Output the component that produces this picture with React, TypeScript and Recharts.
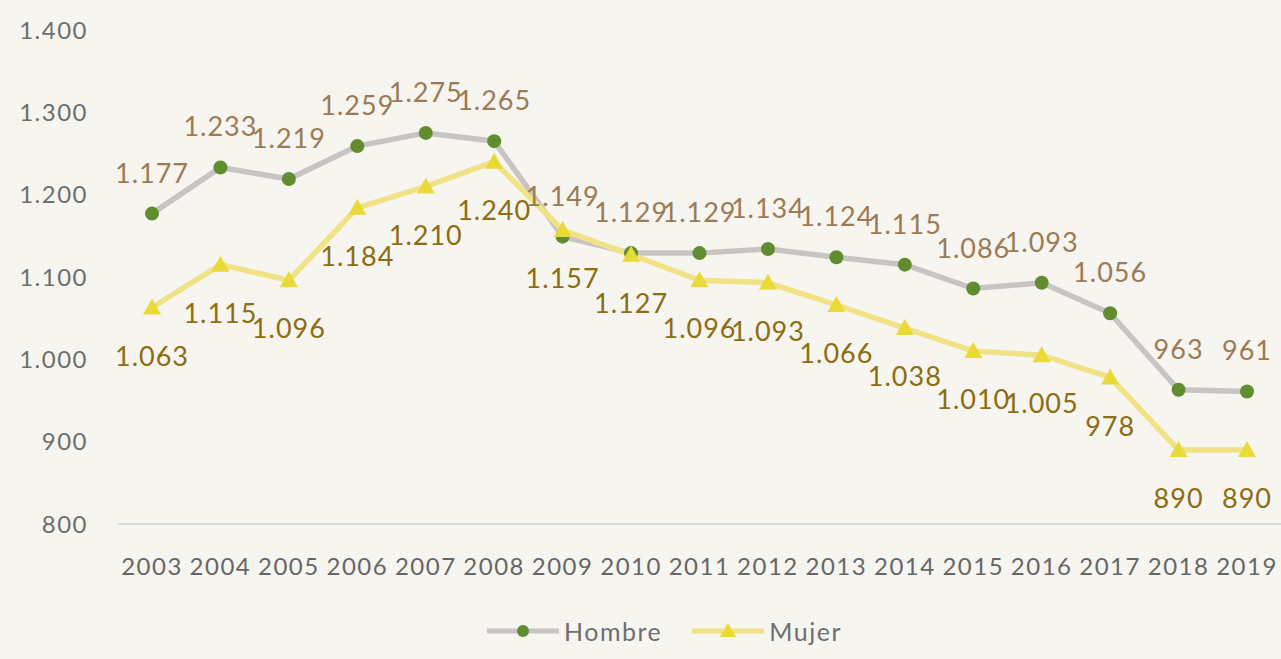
import { LineChart, Line, XAxis, YAxis, Legend, LabelList } from 'recharts'

const YEARS = ['2003', '2004', '2005', '2006', '2007', '2008', '2009', '2010', '2011', '2012', '2013', '2014', '2015', '2016', '2017', '2018', '2019']
const HOMBRE = [1177, 1233, 1219, 1259, 1275, 1265, 1149, 1129, 1129, 1134, 1124, 1115, 1086, 1093, 1056, 963, 961]
const MUJER = [1063, 1115, 1096, 1184, 1210, 1240, 1157, 1127, 1096, 1093, 1066, 1038, 1010, 1005, 978, 890, 890]
const Y_TICKS = [800, 900, 1000, 1100, 1200, 1300, 1400]

const data = YEARS.map((year, i) => ({ year, hombre: HOMBRE[i], mujer: MUJER[i] }))

const FONT = 'Lato, "Open Sans", sans-serif'
const fmt = (v: number) => v.toLocaleString('de-DE')

function Triangle(props: any) {
  const { cx, cy } = props
  if (cx == null || cy == null) return null
  return <path d={`M${cx},${cy - 9} L${cx + 9},${cy + 7} L${cx - 9},${cy + 7} Z`} fill="#e9d939" />
}

function LegendContent() {
  const items = [
    { name: 'Hombre', line: '#c9c4c4', marker: 'circle' },
    { name: 'Mujer', line: '#f1e286', marker: 'tri' },
  ]
  return (
    <div style={{ display: 'flex', justifyContent: 'center', gap: 30, fontFamily: FONT, fontSize: 25, color: '#6f6f6f', paddingLeft: 48 }}>
      {items.map((it) => (
        <div key={it.name} style={{ display: 'flex', alignItems: 'center', gap: 5 }}>
          <svg width={72} height={20}>
            <line x1={0} y1={10} x2={72} y2={10} stroke={it.line} strokeWidth={5} />
            {it.marker === 'circle' ? (
              <circle cx={36} cy={10} r={6} fill="#5f8d2f" />
            ) : (
              <path d="M36,2 L44,16 L28,16 Z" fill="#e9d939" />
            )}
          </svg>
          <span style={{ letterSpacing: 1.5 }}>{it.name}</span>
        </div>
      ))}
    </div>
  )
}

export default function App() {
  return (
    <div style={{ position: 'absolute', left: 0, top: 0, width: 1281, height: 659, background: '#f6f5f0' }}>
      <LineChart width={1281} height={659} data={data} margin={{ top: 30, right: 0, bottom: 13, left: 0 }}>
        <XAxis
          dataKey="year"
          padding={{ left: 34, right: 34 }}
          interval={0}
          axisLine={{ stroke: '#d9d9d6', strokeWidth: 2 }}
          tickLine={false}
          tickMargin={28}
          height={92}
          tick={{ fill: '#666', fontSize: 24, fontFamily: FONT, letterSpacing: 1.5 }}
        />
        <YAxis
          domain={[800, 1400]}
          ticks={Y_TICKS}
          width={118}
          axisLine={false}
          tickLine={false}
          tickSize={0}
          tickMargin={30}
          tickFormatter={fmt}
          tick={{ fill: '#6e6e6e', fontSize: 24, fontFamily: FONT, letterSpacing: 1.5 }}
        />
        <Legend verticalAlign="bottom" content={<LegendContent />} />
        <Line
          dataKey="hombre"
          name="Hombre"
          stroke="#c9c4c4"
          strokeWidth={5.5}
          dot={{ r: 7, fill: '#5f8d2f', stroke: 'none' }}
          isAnimationActive={false}
        >
          <LabelList dataKey="hombre" position="top" offset={31} formatter={(v: any) => fmt(v)} fill="#9b7b55" fontSize={27} fontFamily={FONT} letterSpacing={1} />
        </Line>
        <Line
          dataKey="mujer"
          name="Mujer"
          stroke="#f1e286"
          strokeWidth={5.5}
          dot={<Triangle />}
          isAnimationActive={false}
        >
          <LabelList dataKey="mujer" position="bottom" offset={39} formatter={(v: any) => fmt(v)} fill="#8c6d12" fontSize={27} fontFamily={FONT} letterSpacing={1} />
        </Line>
      </LineChart>
    </div>
  )
}
